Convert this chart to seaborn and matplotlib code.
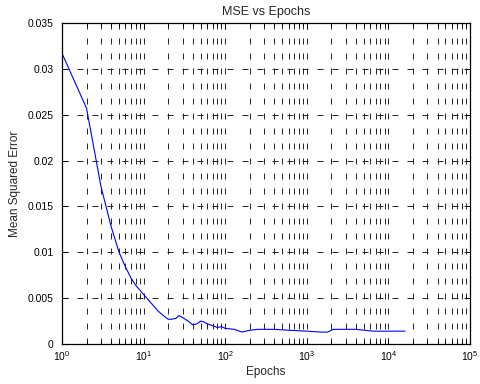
import numpy as np
import pandas as pd
import matplotlib
matplotlib.use("Agg")
import matplotlib.pyplot as plt
import matplotlib.ticker as mticker
import seaborn as sns

epochs = [1, 2, 3, 4, 5, 6, 7, 8, 10, 12, 15, 18, 20, 22, 25, 27, 30, 35, 40, 45,
          50, 55, 60, 70, 80, 90, 100, 130, 160, 200, 250, 320, 400, 600, 1000,
          1500, 1800, 2100, 3000, 4000, 6500, 10000, 16000]
mse = [0.0317, 0.0257, 0.0172, 0.0128, 0.0100, 0.0084, 0.0072, 0.0064, 0.0054,
       0.0046, 0.0036, 0.0030, 0.0027, 0.0027, 0.0028, 0.0031, 0.0029, 0.0025,
       0.0021, 0.0022, 0.0025, 0.0024, 0.0022, 0.0020, 0.0018, 0.0019, 0.0017,
       0.0016, 0.0013, 0.0015, 0.0016, 0.0016, 0.0016, 0.0015, 0.0014, 0.0013,
       0.0013, 0.0016, 0.0016, 0.0016, 0.0014, 0.0014, 0.0014]
yticks = [0, 0.005, 0.01, 0.015, 0.02, 0.025, 0.03, 0.035]
ytick_labels = ["0", "0.005", "0.01", "0.015", "0.02", "0.025", "0.03", "0.035"]

sns.set_style("ticks")
plt.rcParams["font.family"] = ["Liberation Sans", "DejaVu Sans"]
plt.rcParams["mathtext.fontset"] = "custom"
plt.rcParams["mathtext.rm"] = "Liberation Sans"
plt.rcParams["mathtext.it"] = "Liberation Sans:italic"
plt.rcParams["lines.scale_dashes"] = False

df = pd.DataFrame({"Epochs": epochs, "MSE": mse})

fig = plt.figure(figsize=(4.81, 3.84), dpi=100)
ax = fig.add_axes([62 / 481, 40 / 384, (470 - 62) / 481, (344 - 23) / 384])
sns.lineplot(data=df, x="Epochs", y="MSE", ax=ax, color="#0000ff", linewidth=0.8)
ax.set_xscale("log")
ax.set_xlim(1, 1e5)
ax.set_ylim(0, 0.035)
ax.xaxis.set_major_locator(mticker.LogLocator(base=10, numticks=10))
ax.xaxis.set_minor_locator(mticker.LogLocator(base=10, subs=np.arange(2, 10), numticks=20))
ax.xaxis.set_minor_formatter(mticker.NullFormatter())
ax.set_yticks(yticks)
ax.set_yticklabels(ytick_labels)

dash = (0, (4.3, 6.5))
ax.grid(True, which="major", axis="both", color="#222222", linestyle=dash, linewidth=0.7)
ax.grid(True, which="minor", axis="x", color="#222222", linestyle=dash, linewidth=0.7)

for s in ax.spines.values():
    s.set_visible(True)
    s.set_color("black")
    s.set_linewidth(0.9)
ax.tick_params(which="both", direction="in", top=True, right=True, labelsize=7.5,
               colors="black", width=0.6)
ax.tick_params(which="major", length=4)
ax.tick_params(which="minor", length=2.5)
ax.tick_params(axis="y", pad=6)
ax.tick_params(axis="x", pad=4)

ax.set_title("MSE vs Epochs", fontsize=9, pad=6)
ax.set_xlabel("Epochs", fontsize=8.5, labelpad=2)
ax.set_ylabel("Mean Squared Error", fontsize=8.5, labelpad=5)

fig.savefig("out.png", dpi=100)
